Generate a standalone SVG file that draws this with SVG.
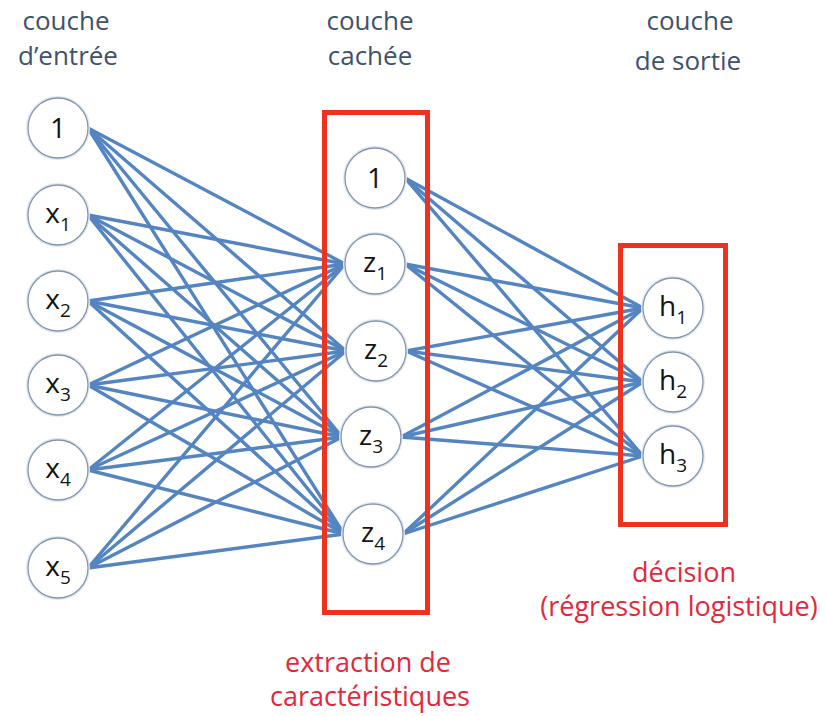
<svg xmlns="http://www.w3.org/2000/svg" width="826" height="716" viewBox="0 0 826 716">
  <style>
    .edge { stroke: #5585c0; stroke-width: 3.4; fill: none; stroke-linecap: round; }
    .halo { fill: none; stroke: #e2e9f2; stroke-width: 4; }
    .node { fill: #ffffff; stroke: #8596ac; stroke-width: 1.3; }
    .lbl { font-family: "Open Sans", "Liberation Sans", sans-serif; font-size: 28px; fill: #141414; text-anchor: middle; }
    .sub { font-size: 19px; }
    .head { font-family: "Open Sans", "Liberation Sans", sans-serif; font-size: 26px; fill: #41516a; text-anchor: middle; }
    .note { font-family: "Open Sans", "Liberation Sans", sans-serif; font-size: 27px; fill: #e3283c; text-anchor: middle; }
    .frame { fill: none; stroke: #ee3220; stroke-width: 5; }
  </style>

  <rect width="826" height="716" fill="#ffffff"/>

  <!-- layer headings -->
  <g id="heading-input">
    <text class="head" x="66" y="30">couche</text>
    <text class="head" x="68" y="65">d’entrée</text>
  </g>
  <g id="heading-hidden">
    <text class="head" x="370" y="30">couche</text>
    <text class="head" x="370" y="65">cachée</text>
  </g>
  <g id="heading-output">
    <text class="head" x="690" y="30">couche</text>
    <text class="head" x="688" y="70">de sortie</text>
  </g>

  <!-- connectors: input layer to hidden units, hidden layer to outputs -->
  <g id="connectors">
    <!-- bias 1 -->
    <line class="edge" x1="88" y1="128" x2="345" y2="264"/>
    <line class="edge" x1="88" y1="128" x2="346" y2="351"/>
    <line class="edge" x1="88" y1="128" x2="342" y2="437"/>
    <line class="edge" x1="88" y1="128" x2="344" y2="534"/>
    <!-- x1 -->
    <line class="edge" x1="88" y1="215" x2="345" y2="264"/>
    <line class="edge" x1="88" y1="215" x2="346" y2="351"/>
    <line class="edge" x1="88" y1="215" x2="342" y2="437"/>
    <line class="edge" x1="88" y1="215" x2="344" y2="534"/>
    <!-- x2 -->
    <line class="edge" x1="88" y1="301" x2="345" y2="264"/>
    <line class="edge" x1="88" y1="301" x2="346" y2="351"/>
    <line class="edge" x1="88" y1="301" x2="342" y2="437"/>
    <line class="edge" x1="88" y1="301" x2="344" y2="534"/>
    <!-- x3 -->
    <line class="edge" x1="88" y1="385" x2="345" y2="264"/>
    <line class="edge" x1="88" y1="385" x2="346" y2="351"/>
    <line class="edge" x1="88" y1="385" x2="342" y2="437"/>
    <line class="edge" x1="88" y1="385" x2="344" y2="534"/>
    <!-- x4 -->
    <line class="edge" x1="88" y1="470" x2="345" y2="264"/>
    <line class="edge" x1="88" y1="470" x2="346" y2="351"/>
    <line class="edge" x1="88" y1="470" x2="342" y2="437"/>
    <line class="edge" x1="88" y1="470" x2="344" y2="534"/>
    <!-- x5 -->
    <line class="edge" x1="88" y1="568" x2="345" y2="264"/>
    <line class="edge" x1="88" y1="568" x2="346" y2="351"/>
    <line class="edge" x1="88" y1="568" x2="342" y2="437"/>
    <line class="edge" x1="88" y1="568" x2="344" y2="534"/>

    <!-- hidden bias 1 -->
    <line class="edge" x1="405" y1="178" x2="643" y2="308"/>
    <line class="edge" x1="405" y1="178" x2="643" y2="382"/>
    <line class="edge" x1="405" y1="178" x2="643" y2="456"/>
    <!-- z1 -->
    <line class="edge" x1="405" y1="264" x2="643" y2="308"/>
    <line class="edge" x1="405" y1="264" x2="643" y2="382"/>
    <line class="edge" x1="405" y1="264" x2="643" y2="456"/>
    <!-- z2 -->
    <line class="edge" x1="406" y1="351" x2="643" y2="308"/>
    <line class="edge" x1="406" y1="351" x2="643" y2="382"/>
    <line class="edge" x1="406" y1="351" x2="643" y2="456"/>
    <!-- z3 -->
    <line class="edge" x1="401" y1="437" x2="643" y2="308"/>
    <line class="edge" x1="401" y1="437" x2="643" y2="382"/>
    <line class="edge" x1="401" y1="437" x2="643" y2="456"/>
    <!-- z4 -->
    <line class="edge" x1="403" y1="534" x2="643" y2="308"/>
    <line class="edge" x1="403" y1="534" x2="643" y2="382"/>
    <line class="edge" x1="403" y1="534" x2="643" y2="456"/>
  </g>

  <!-- highlight frames -->
  <g id="frame-hidden">
    <rect class="frame" x="324.5" y="112.5" width="103" height="500"/>
  </g>
  <g id="frame-output">
    <rect class="frame" x="620.5" y="245.5" width="105" height="279"/>
  </g>

  <!-- input layer -->
  <g id="in-bias">
    <circle class="halo" cx="58" cy="128" r="30"/>
    <circle class="node" cx="58" cy="128" r="30"/>
    <text class="lbl" x="58" y="138">1</text>
  </g>
  <g id="in-x1">
    <circle class="halo" cx="58" cy="215" r="30"/>
    <circle class="node" cx="58" cy="215" r="30"/>
    <text class="lbl" x="58" y="223">x<tspan class="sub" dy="8">1</tspan></text>
  </g>
  <g id="in-x2">
    <circle class="halo" cx="58" cy="301" r="30"/>
    <circle class="node" cx="58" cy="301" r="30"/>
    <text class="lbl" x="58" y="309">x<tspan class="sub" dy="8">2</tspan></text>
  </g>
  <g id="in-x3">
    <circle class="halo" cx="58" cy="385" r="30"/>
    <circle class="node" cx="58" cy="385" r="30"/>
    <text class="lbl" x="58" y="393">x<tspan class="sub" dy="8">3</tspan></text>
  </g>
  <g id="in-x4">
    <circle class="halo" cx="58" cy="470" r="30"/>
    <circle class="node" cx="58" cy="470" r="30"/>
    <text class="lbl" x="58" y="478">x<tspan class="sub" dy="8">4</tspan></text>
  </g>
  <g id="in-x5">
    <circle class="halo" cx="58" cy="568" r="30"/>
    <circle class="node" cx="58" cy="568" r="30"/>
    <text class="lbl" x="58" y="576">x<tspan class="sub" dy="8">5</tspan></text>
  </g>

  <!-- hidden layer -->
  <g id="hid-bias">
    <circle class="halo" cx="375" cy="178" r="30"/>
    <circle class="node" cx="375" cy="178" r="30"/>
    <text class="lbl" x="375" y="188">1</text>
  </g>
  <g id="hid-z1">
    <circle class="halo" cx="375" cy="264" r="30"/>
    <circle class="node" cx="375" cy="264" r="30"/>
    <text class="lbl" x="375" y="272">z<tspan class="sub" dy="8">1</tspan></text>
  </g>
  <g id="hid-z2">
    <circle class="halo" cx="376" cy="351" r="30"/>
    <circle class="node" cx="376" cy="351" r="30"/>
    <text class="lbl" x="376" y="359">z<tspan class="sub" dy="8">2</tspan></text>
  </g>
  <g id="hid-z3">
    <circle class="halo" cx="371" cy="437" r="30"/>
    <circle class="node" cx="371" cy="437" r="30"/>
    <text class="lbl" x="371" y="445">z<tspan class="sub" dy="8">3</tspan></text>
  </g>
  <g id="hid-z4">
    <circle class="halo" cx="373" cy="534" r="30"/>
    <circle class="node" cx="373" cy="534" r="30"/>
    <text class="lbl" x="373" y="542">z<tspan class="sub" dy="8">4</tspan></text>
  </g>

  <!-- output layer -->
  <g id="out-h1">
    <circle class="halo" cx="673" cy="308" r="30"/>
    <circle class="node" cx="673" cy="308" r="30"/>
    <text class="lbl" x="673" y="316">h<tspan class="sub" dy="8">1</tspan></text>
  </g>
  <g id="out-h2">
    <circle class="halo" cx="673" cy="382" r="30"/>
    <circle class="node" cx="673" cy="382" r="30"/>
    <text class="lbl" x="673" y="390">h<tspan class="sub" dy="8">2</tspan></text>
  </g>
  <g id="out-h3">
    <circle class="halo" cx="673" cy="456" r="30"/>
    <circle class="node" cx="673" cy="456" r="30"/>
    <text class="lbl" x="673" y="464">h<tspan class="sub" dy="8">3</tspan></text>
  </g>

  <!-- annotations -->
  <g id="note-output">
    <text class="note" x="684" y="582">décision</text>
    <text class="note" x="679" y="616">(régression logistique)</text>
  </g>
  <g id="note-hidden">
    <text class="note" x="368" y="672">extraction de</text>
    <text class="note" x="370" y="706">caractéristiques</text>
  </g>
</svg>
